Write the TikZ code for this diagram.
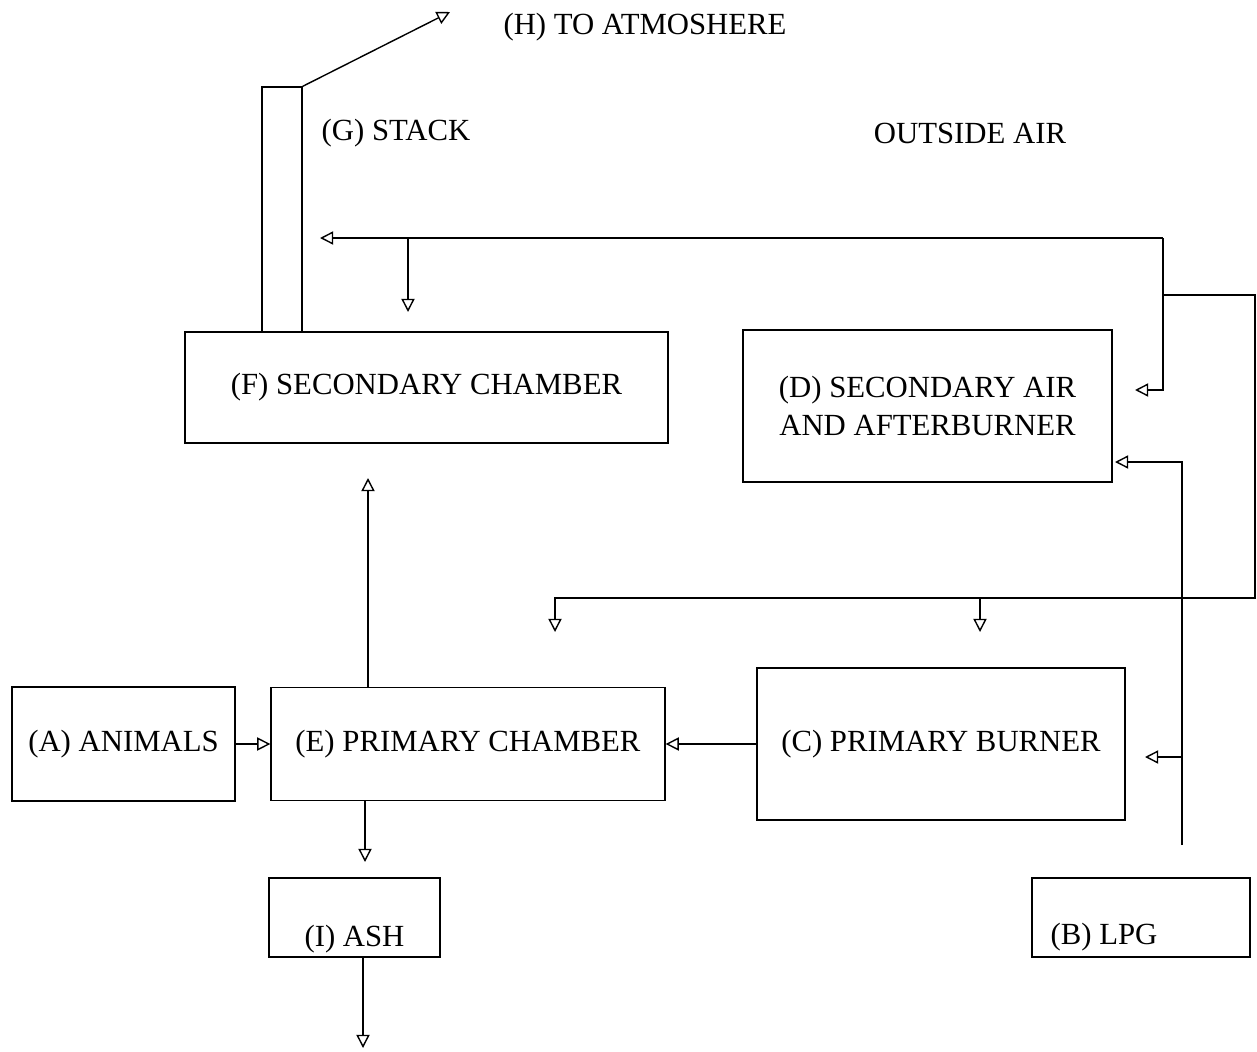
\documentclass[tikz,border=0pt]{standalone}
\usepackage{fontspec}
\setmainfont{Liberation Serif}
\usetikzlibrary{arrows.meta}
\tikzset{
    box/.style={draw, line width=0.8pt, inner sep=0pt, align=center},
    flow/.style={line width=0.8pt, -{Triangle[open, length=7.5pt, width=7.5pt]}}
}

\begin{document}
\begin{tikzpicture}[x=0.02cm, y=-0.02cm, font=\fontsize{17.5}{21.5}\selectfont]
    \useasboundingbox (0,0) rectangle (1257,1051);

    % boxes
    \node [box, minimum width=0.8cm, minimum height=4.9cm] (stack) at (282,209.5) {};
    \node [box, minimum width=9.66cm, minimum height=2.22cm] (F) at (426.5,387.5) {(F) SECONDARY CHAMBER};
    \node [box, minimum width=7.38cm, minimum height=3.04cm] (D) at (927.5,406) {(D) SECONDARY AIR\\AND AFTERBURNER};
    \node [box, minimum width=4.46cm, minimum height=2.28cm] (A) at (123.5,744) {(A) ANIMALS};
    \node [box, minimum width=7.88cm, minimum height=2.26cm] (E) at (468,744) {(E) PRIMARY CHAMBER};
    \node [box, minimum width=7.36cm, minimum height=3.04cm] (C) at (941,744) {(C) PRIMARY BURNER};
    \node [box, minimum width=3.42cm, minimum height=1.58cm,
           label={[yshift=-0.44cm]center:(I) ASH}] (I) at (354.5,917.5) {};
    \node [box, minimum width=4.36cm, minimum height=1.58cm,
           label={[xshift=-0.74cm, yshift=-0.4cm]center:(B) LPG}] (B) at (1141,917.5) {};

    % labels
    \node (H) at (645,27) {(H) TO ATMOSHERE};
    \node (G) at (396,133) {(G) STACK};
    \node (outair) at (970,133) {OUTSIDE AIR};

    % points on the lines
    \coordinate (atm) at (450,12);
    \coordinate (air) at (1163,238);
    \coordinate (airF) at (320,238);
    \coordinate (fdrop) at (408,238);
    \coordinate (airD) at (1135,390);
    \coordinate (loop) at (1255,295);
    \coordinate (hbus) at (0,598);
    \coordinate (airE) at (555,632);
    \coordinate (airC) at (980,632);
    \coordinate (lpg) at (1182,845);
    \coordinate (lpgD) at (1115,462);
    \coordinate (lpgC) at (1145,757);
    \coordinate (eup) at (368,478);
    \coordinate (ashin) at (365,862);
    \coordinate (ashout) at (363,1048);

    % flue gas
    \draw [flow] (stack.north east) -- (atm);

    % outside air
    \draw [flow] (air) -- (airF);
    \draw [flow] (fdrop) -- ++(0,74);
    \draw [flow] (air) |- (airD);
    \draw [flow] (air |- loop) -- (loop) |- (airE |- hbus) -- (airE);
    \draw [flow] (airC |- hbus) -- (airC);

    % LPG
    \draw [flow] (lpg) |- (lpgD);
    \draw [flow] (lpg |- lpgC) -- (lpgC);

    % chambers
    \draw [flow] (A) -- (E);
    \draw [flow] (C) -- (E);
    \draw [flow] (E.north -| eup) -- (eup);
    \draw [flow] (E.south -| ashin) -- (ashin);
    \draw [flow] (I.south -| ashout) -- (ashout);
\end{tikzpicture}
\end{document}
